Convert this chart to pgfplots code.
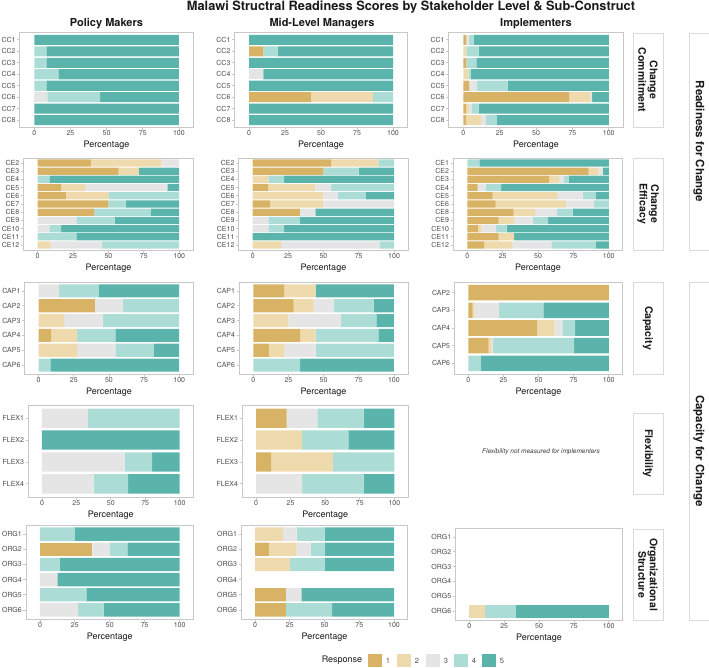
\documentclass[border=0pt]{standalone}
\usepackage{fontspec}
\setmainfont{TeX Gyre Heros}
\usepackage{pgfplots}
\usepackage{pgfplotstable}
\pgfplotsset{compat=1.18}
\definecolor{c1}{HTML}{D8B365}
\definecolor{c2}{HTML}{EEDAAD}
\definecolor{c3}{HTML}{E5E5E5}
\definecolor{c4}{HTML}{ACDCD6}
\definecolor{c5}{HTML}{5AB4AC}
\definecolor{bordergray}{HTML}{C8C8C8}
\definecolor{tickgray}{HTML}{4D4D4D}
\definecolor{stripgray}{HTML}{DADADA}
\definecolor{txt}{HTML}{1A1A1A}

% ---------- data: y r1 r2 r3 r4 r5 (percent of responses) ----------
\pgfplotstableread{
y r1 r2 r3 r4 r5
1 0 0 0 0 100
2 0 0 0 8.3 91.7
3 0 0 0 8.3 91.7
4 0 0 0 16.7 83.3
5 0 0 0 8.3 91.7
6 0 0 9.1 36.4 54.5
7 0 0 0 0 100
8 0 0 0 0 100
}\pmcc
\pgfplotstableread{
y r1 r2 r3 r4 r5
1 0 0 0 0 100
2 10 0 0 10 80
3 0 0 0 0 100
4 0 0 10 0 90
5 0 0 0 0 100
6 42.9 42.9 0 14.2 0
7 0 0 0 0 100
8 0 0 0 0 100
}\mlmcc
\pgfplotstableread{
y r1 r2 r3 r4 r5
1 2 0 2 3 93
2 0 2 0 8.5 89.5
3 2 0 0 7 91
4 0 3.5 0 1.5 95
5 4 0 5.5 21 69.5
6 72.7 14.5 1.3 0 11.5
7 2 2 1.5 5 89.5
8 2 10 3.5 7.5 77
}\imcc
\pgfplotstableread{
y r1 r2 r3 r4 r5
1 37.5 50 12.5 0 0
2 57.1 14.3 0 0 28.6
3 0 0 0 8.3 91.7
4 16.7 16.7 58.3 0 8.3
5 20 30 0 50 0
6 50 0 0 12.5 37.5
7 40 0 0 40 20
8 0 0 27.3 27.3 45.4
9 0 0 8.3 8.3 83.4
10 0 0 0 27.3 72.7
11 0 9.1 36.4 54.5 0
}\pmce
\pgfplotstableread{
y r1 r2 r3 r4 r5
1 55.6 33.3 0 11.1 0
2 50 0 0 25 25
3 0 11.1 0 11.1 77.8
4 11.1 33.3 11.1 44.5 0
5 0 50 10 20 20
6 12.5 37.5 50 0 0
7 33.3 0 11.1 0 55.6
8 0 0 11.1 22.2 66.7
9 0 0 11.1 11.1 77.8
10 0 0 0 0 100
11 0 20 70 10 0
}\mlmce
\pgfplotstableread{
y r1 r2 r3 r4 r5
1 0 0 0 8.5 91.5
2 85.7 7.1 3 0 4.2
3 57.8 7.1 3.5 3.3 28.3
4 7.3 0 5.7 10.8 76.2
5 17.9 45.5 18.2 9.2 9.2
6 20 49.6 20 10.4 0
7 32.8 15.1 15.5 11.1 25.5
8 22.2 10.8 13.2 10.9 42.9
9 7.5 2.6 10.2 7.5 72.2
10 22.2 10.8 0 0 67
11 12 19.6 27.8 31.4 9.2
}\imce
\pgfplotstableread{
y r1 r2 r3 r4 r5
1 0 0 14.3 28.6 57.1
2 40 0 20 40 0
3 0 18.2 27.3 54.5 0
4 9.1 18.2 0 27.3 45.4
5 0 27.3 27.3 27.3 18.1
6 0 0 0 8.3 91.7
}\pmcap
\pgfplotstableread{
y r1 r2 r3 r4 r5
1 22.2 22.2 0 0 55.6
2 28.6 14.3 14.3 28.5 14.3
3 0 25 37.5 25 12.5
4 33.3 11.1 0 44.5 11.1
5 11.1 11.1 22.2 55.6 0
6 0 0 0 33.3 66.7
}\mlmcap
\pgfplotstableread{
y r1 r2 r3 r4 r5
1 100 0 0 0 0
2 3.1 1.4 17.4 31.5 46.6
3 48.9 12.6 5.5 9 24
4 14.5 2.1 1 57.7 24.7
5 0 0 0 9 91
}\imcap
\pgfplotstableread{
y r1 r2 r3 r4 r5
1 0 0 33.3 66.7 0
2 0 0 0 0 100
3 0 0 60 20 20
4 0 0 37.5 25 37.5
}\pmflex
\pgfplotstableread{
y r1 r2 r3 r4 r5
1 22.2 0 22.2 33.4 22.2
2 0 33.3 0 33.4 33.3
3 11.1 44.5 0 44.4 0
4 0 0 33.3 44.5 22.2
}\mlmflex
\pgfplotstableread{
y r1 r2 r3 r4 r5
1 0 0 0 25 75
2 37.5 0 12.5 12.5 37.5
3 0 0 0 14.3 85.7
4 0 0 12.5 0 87.5
5 0 0 0 33.3 66.7
6 0 0 27.3 18.2 54.5
}\pmorg
\pgfplotstableread{
y r1 r2 r3 r4 r5
1 0 20 10 20 50
2 10 20 10 10 50
3 0 25 0 25 50
4 0 0 0 0 0
5 22.2 0 11.1 0 66.7
6 22.2 0 0 33.3 44.5
}\mlmorg
\pgfplotstableread{
y r1 r2 r3 r4 r5
1 0 0 0 0 0
2 0 0 0 0 0
3 0 0 0 0 0
4 0 0 0 0 0
5 0 0 0 0 0
6 0 11.1 0 22.2 66.7
}\imorg

\pgfplotsset{
  panel/.style={
    scale only axis, anchor=south west,
    xbar stacked, bar width=0.88,
    xmin=-10, xmax=110, ymin=0.4, y dir=reverse,
    xtick={0,25,50,75,100},
    xtick pos=bottom, ytick pos=left,
    tick align=outside, major tick length=2.5pt,
    axis line style={draw=bordergray, line width=1pt},
    tick style={draw=bordergray, line width=0.8pt},
    ticklabel style={font=\fontsize{7}{8}\selectfont, text=tickgray},
    xticklabel style={inner sep=1.2pt},
    yticklabel style={inner sep=1.5pt},
    /pgf/number format/assume math mode=true,
    xlabel={Percentage},
    xlabel style={font=\fontsize{9}{10}\selectfont, text=txt,
      at={(axis description cs:0.5,0)}, anchor=center, yshift=-18pt},
    every axis plot/.append style={draw=none},
  }
}

\newcommand{\panel}[7]{%
  \pgfmathsetmacro{\ymaxval}{#5+0.6}%
  \begin{axis}[panel, at={(#1pt,-#2pt)}, width=#3pt, height=#4pt,
      ymax=\ymaxval, ytick={1,...,#5}, yticklabels={#6}]
    \addplot[fill=c1] table[x=r1,y=y]{#7};
    \addplot[fill=c2] table[x=r2,y=y]{#7};
    \addplot[fill=c3] table[x=r3,y=y]{#7};
    \addplot[fill=c4] table[x=r4,y=y]{#7};
    \addplot[fill=c5] table[x=r5,y=y]{#7};
  \end{axis}%
}

\begin{document}
\begin{tikzpicture}
\useasboundingbox (0pt,0pt) rectangle (709pt,-667pt);

% title and column headers
\node[font=\bfseries\fontsize{12.8}{14}\selectfont, text=txt] at (411pt,-7pt)
  {Malawi Structral Readiness Scores by Stakeholder Level \& Sub-Construct};
\node[font=\bfseries\fontsize{11}{13}\selectfont, text=txt] at (106.5pt,-24pt) {Policy Makers};
\node[font=\bfseries\fontsize{11}{13}\selectfont, text=txt] at (322pt,-24pt) {Mid-Level Managers};
\node[font=\bfseries\fontsize{11}{13}\selectfont, text=txt] at (536pt,-24pt) {Implementers};

% row 1: Change Commitment
\panel{19.8}{127}{173.6}{94}{8}{CC1,CC2,CC3,CC4,CC5,CC6,CC7,CC8}{\pmcc}
\panel{234.6}{127}{172.8}{94}{8}{CC1,CC2,CC3,CC4,CC5,CC6,CC7,CC8}{\mlmcc}
\panel{448.8}{127}{174.5}{94}{8}{CC1,CC2,CC3,CC4,CC5,CC6,CC7,CC8}{\imcc}
% row 2: Change Efficacy
\panel{23.5}{250}{169.9}{92}{11}{CE2,CE3,CE4,CE5,CE6,CE7,CE8,CE9,CE10,CE11,CE12}{\pmce}
\panel{238.6}{250}{169.6}{92}{11}{CE2,CE3,CE4,CE5,CE6,CE7,CE8,CE9,CE10,CE11,CE12}{\mlmce}
\panel{453.2}{250}{169.7}{92}{11}{CE1,CE2,CE3,CE4,CE5,CE6,CE8,CE9,CE10,CE11,CE12}{\imce}
% row 3: Capacity
\panel{24.6}{374}{168.7}{92}{6}{CAP1,CAP2,CAP3,CAP4,CAP5,CAP6}{\pmcap}
\panel{239.2}{374}{168.8}{92}{6}{CAP1,CAP2,CAP3,CAP4,CAP5,CAP6}{\mlmcap}
\panel{454.3}{374}{168.5}{92}{5}{CAP2,CAP3,CAP4,CAP5,CAP6}{\imcap}
% row 4: Flexibility
\panel{28.2}{497}{165.2}{92}{4}{FLEX1,FLEX2,FLEX3,FLEX4}{\pmflex}
\panel{242.2}{497}{166}{92}{4}{FLEX1,FLEX2,FLEX3,FLEX4}{\mlmflex}
\node[font=\itshape\fontsize{6.5}{8}\selectfont, text=txt!85] at (541pt,-452pt)
  {Flexibility not measured for implementers};
% row 5: Organizational Structure
\panel{26}{619}{167.6}{94}{6}{ORG1,ORG2,ORG3,ORG4,ORG5,ORG6}{\pmorg}
\panel{241.1}{619}{166.8}{94}{6}{ORG1,ORG2,ORG3,ORG4,ORG5,ORG6}{\mlmorg}
\panel{455.4}{620}{167.3}{92}{6}{ORG1,ORG2,ORG3,ORG4,ORG5,ORG6}{\imorg}

% sub-construct strips
\tikzset{strip/.style={draw=stripgray, line width=0.6pt, fill=white},
         striptext/.style={rotate=-90, align=center, font=\bfseries\fontsize{10.5}{11.5}\selectfont, text=txt}}
\draw[strip] (633pt,-33pt) rectangle (663pt,-127pt);
\node[striptext] at (648pt,-80pt) {Change\\Commitment};
\draw[strip] (633pt,-158pt) rectangle (663pt,-250pt);
\node[striptext] at (648pt,-204pt) {Change\\Efficacy};
\draw[strip] (633pt,-282pt) rectangle (663pt,-374pt);
\node[striptext] at (648pt,-328pt) {Capacity};
\draw[strip] (633pt,-413pt) rectangle (663pt,-494pt);
\node[striptext] at (648pt,-453.5pt) {Flexibility};
\draw[strip] (633pt,-529pt) rectangle (663pt,-620pt);
\node[striptext] at (648pt,-574.5pt) {Organizational\\Structure};

% construct strips
\draw[strip] (689pt,-33pt) rectangle (716pt,-250pt);
\node[striptext, font=\bfseries\fontsize{11.5}{13}\selectfont] at (699pt,-141.5pt) {Readiness for Change};
\draw[strip] (689pt,-282pt) rectangle (716pt,-620pt);
\node[striptext, font=\bfseries\fontsize{11.5}{13}\selectfont] at (699pt,-451pt) {Capacity for Change};

% legend
\node[font=\fontsize{9}{10}\selectfont, text=txt] at (342pt,-660.5pt) {Response};
\foreach \c/\x in {1/368,2/397,3/426,4/454,5/482}{
  \fill[c\c] (\x pt,-654pt) rectangle ({\x pt+14pt},-667pt);
  \node[font=\fontsize{7.5}{8}\selectfont, text=tickgray] at ({\x pt+20pt},-660.5pt) {\c};
}
\end{tikzpicture}
\end{document}
